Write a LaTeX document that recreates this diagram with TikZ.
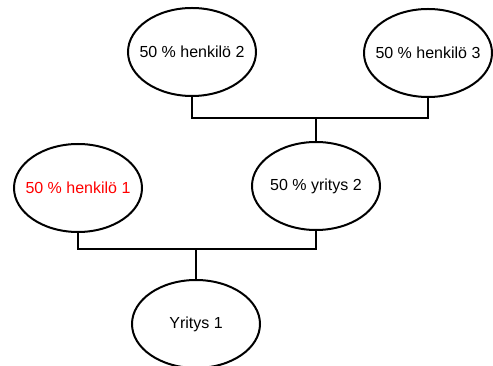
\documentclass[tikz,border=0pt]{standalone}
\usepackage{fontspec}
\setmainfont{Liberation Sans}
\usepackage{tikz}
\usetikzlibrary{shapes.geometric, positioning}
\tikzstyle{owner} = [ellipse, minimum width=96pt, minimum height=66pt, inner xsep=-6pt, inner ysep=0pt, draw=black, line width=1.5pt, text centered, font=\fontsize{12}{14}\selectfont]
\tikzstyle{link} = [line width=0.8pt, draw=black]

\begin{document}
\begin{tikzpicture}[x=0.75pt, y=-0.75pt]
\useasboundingbox (0,0) rectangle (493,366);

\node (h2) [owner] at (192,52) {50 \% henkilö 2};
\node (h3) [owner] at (428,53) {50 \% henkilö 3};
\node (y2) [owner] at (316,186) {50 \% yritys 2};
\node (h1) [owner, text=red] at (78,188) {50 \% henkilö 1};
\node (y1) [owner] at (196,324) {Yritys 1};

\coordinate (topbus) at (316,118);
\coordinate (lowbus) at (196,249);

\draw [link] (h2.south) |- (topbus) -| (h3.south);
\draw [link] (topbus) -- (y2.north);
\draw [link] (h1.south) |- (lowbus) -| (y2.south);
\draw [link] (lowbus) -- (y1.north);

\end{tikzpicture}
\end{document}
